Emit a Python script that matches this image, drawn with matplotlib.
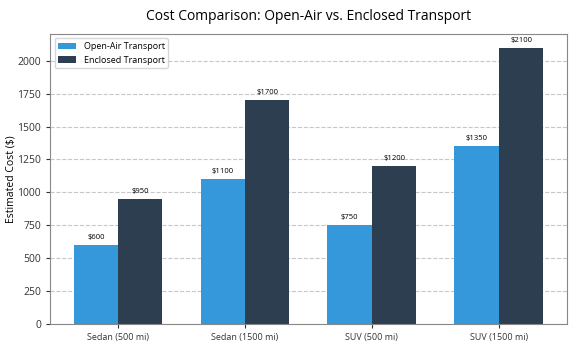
import matplotlib
matplotlib.use("Agg")
import matplotlib.pyplot as plt
import numpy as np

plt.rcParams['font.family'] = ['Open Sans', 'DejaVu Sans']

categories = ["Sedan (500 mi)", "Sedan (1500 mi)", "SUV (500 mi)", "SUV (1500 mi)"]
open_air = [600, 1100, 750, 1350]
enclosed = [950, 1700, 1200, 2100]
series_names = ["Open-Air Transport", "Enclosed Transport"]
colors = ["#3498db", "#2c3e50"]

fig, ax = plt.subplots(figsize=(5.76, 3.46), dpi=100)
x = np.arange(len(categories))
w = 0.35
b1 = ax.bar(x - w/2, open_air, w, label=series_names[0], color=colors[0])
b2 = ax.bar(x + w/2, enclosed, w, label=series_names[1], color=colors[1])
for bars in (b1, b2):
    ax.bar_label(bars, labels=[f"${int(v)}" for v in bars.datavalues], padding=3, fontsize=5.5)

ax.set_xticks(x)
ax.set_xticklabels(categories, fontsize=6.5)
ax.tick_params(axis='y', labelsize=7.5)
ax.tick_params(axis='both', colors='#333333', length=3)
ax.set_ylabel("Estimated Cost ($)", fontsize=7.5)
ax.yaxis.set_label_coords(-0.065, 0.5)
ax.set_title("Cost Comparison: Open-Air vs. Enclosed Transport", fontsize=10, pad=10)
ax.set_ylim(0, 2205)
ax.set_yticks(np.arange(0, 2001, 250))
ax.yaxis.grid(True, linestyle='--', alpha=0.7)
ax.set_axisbelow(True)
for s in ax.spines.values():
    s.set_color('#888888')
ax.legend(loc='upper left', fontsize=6.5)
fig.subplots_adjust(left=0.087, right=0.984, top=0.902, bottom=0.064)
fig.savefig("out.png", dpi=100)
